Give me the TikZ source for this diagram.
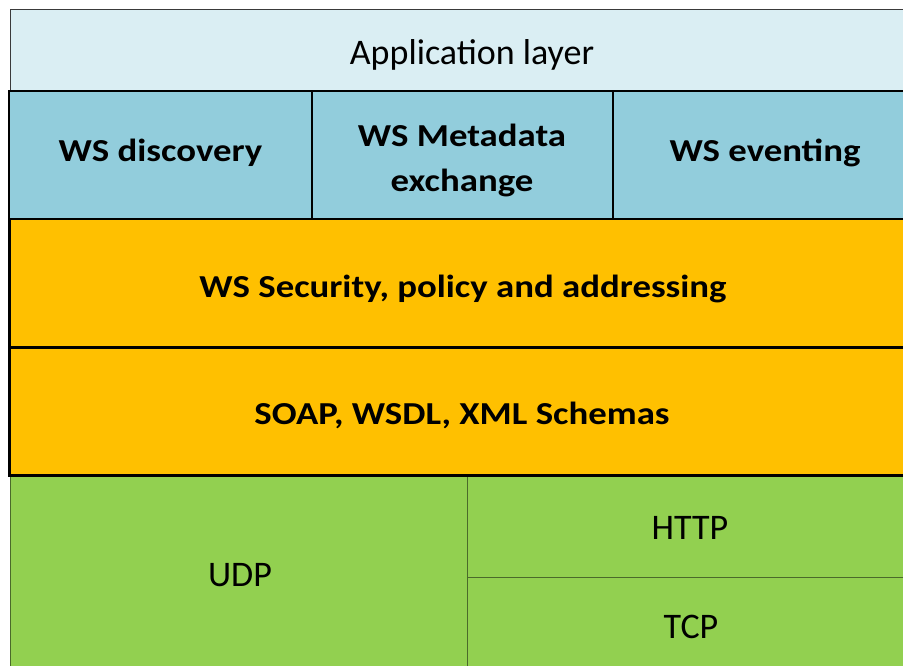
\documentclass[tikz,border=0pt]{standalone}
\usepackage{fontspec}
\setmainfont{Carlito}
\newfontfamily\widefont{Carlito}[FakeStretch=1.15]
\definecolor{applight}{HTML}{DAEEF3}
\definecolor{wsblue}{HTML}{92CDDC}
\definecolor{wsorange}{HTML}{FFC000}
\definecolor{netgreen}{HTML}{92D050}
\definecolor{appedge}{HTML}{3A3A3A}
\definecolor{greenedge}{HTML}{4A6A2A}
\tikzset{
  cell/.style={rectangle, anchor=north west, inner sep=0pt, outer sep=0pt},
  appcell/.style={cell, fill=applight, draw=appedge, line width=1pt},
  bluecell/.style={cell, fill=wsblue, draw=black, line width=2.5pt},
  orangecell/.style={cell, fill=wsorange, draw=black, line width=3pt},
  greencell/.style={cell, fill=netgreen, draw=greenedge, line width=0.9pt},
  label/.style={anchor=base, inner sep=0pt, outer sep=0pt, align=center,
    text=black, font=\fontsize{36}{45}\selectfont},
  boldlabel/.style={label, font=\widefont\fontsize{32}{45}\selectfont\bfseries},
}
\begin{document}
\begin{tikzpicture}[x=1pt,y=-1pt]
  \useasboundingbox (0,0) rectangle (903,666);
  \clip (0,0) rectangle (903,666);
  % application layer on top
  \node[appcell, minimum width=906pt, minimum height=81pt] (app) at (10,10) {};
  % transport layers at the bottom
  \node[greencell, minimum width=457pt, minimum height=205pt] (udp) at (10,475) {};
  \node[greencell, minimum width=449pt, minimum height=102pt] (http) at (467,475) {};
  \node[greencell, minimum width=449pt, minimum height=103pt] (tcp) at (467,577) {};
  % messaging layers
  \node[orangecell, minimum width=907pt, minimum height=128pt] (soap) at (9,347) {};
  \node[orangecell, minimum width=907pt, minimum height=128pt] (sec) at (9,219) {};
  % WS services row
  \node[bluecell, minimum width=303pt, minimum height=128pt] (disc) at (9,91) {};
  \node[bluecell, minimum width=301pt, minimum height=128pt] (meta) at (312,91) {};
  \node[bluecell, minimum width=303pt, minimum height=128pt] (event) at (613,91) {};
  % labels (base anchor = baseline of the last line)
  \node[label] (apptext) at (472,65) {Application layer};
  \node[boldlabel] (disctext) at (160.5,162) {WS discovery};
  \node[boldlabel] (metatext) at (462,192) {WS Metadata\\exchange};
  \node[boldlabel] (eventtext) at (765,162) {WS eventing};
  \node[boldlabel] (sectext) at (463,297) {WS Security, policy and addressing};
  \node[boldlabel] (soaptext) at (462,424) {SOAP, WSDL, XML Schemas};
  \node[label] (udptext) at (240,586) {UDP};
  \node[label] (httptext) at (690,539) {HTTP};
  \node[label] (tcptext) at (691,638) {TCP};
\end{tikzpicture}
\end{document}
